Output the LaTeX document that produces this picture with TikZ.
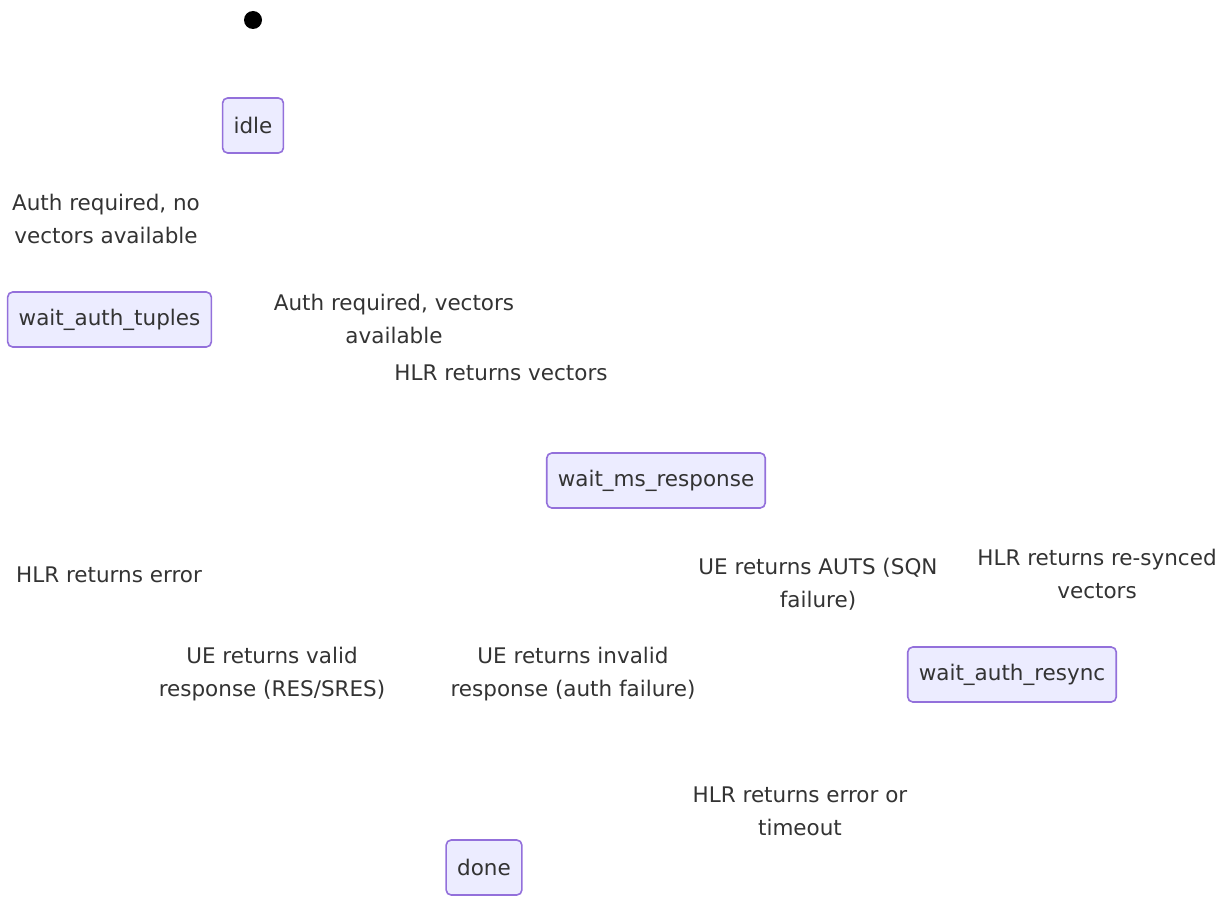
\documentclass[tikz,border=0pt]{standalone}
\usepackage{fontspec}
\setmainfont{DejaVu Sans}
\definecolor{stfill}{HTML}{ECECFF}
\definecolor{stline}{HTML}{9370DB}
\definecolor{txt}{HTML}{333333}
\begin{document}
\begin{tikzpicture}[x=1pt,y=-1pt,
  state/.style={draw=stline,fill=stfill,line width=1.6pt,rounded corners=5pt,
    minimum height=55pt,inner xsep=11pt,text=txt,font=\fontsize{21.5}{26}\selectfont},
  trans/.style={text=txt,align=center,font=\fontsize{21.5}{33}\selectfont}]
\useasboundingbox (0,0) rectangle (1230,896);

\fill (253,20) circle (9pt);

\node[state] (idle) at (253,125.5) {idle};
\node[state] (tuples) at (109.5,319.5) {wait\_auth\_tuples};
\node[state] (msresp) at (656,480.5) {wait\_ms\_response};
\node[state] (resync) at (1012,674.5) {wait\_auth\_resync};
\node[state] (done) at (484,867.5) {done};

\node[trans] (t1) at (106,219) {Auth required, no\\vectors available};
\node[trans] (t2) at (394,318.5) {Auth required, vectors\\available};
\node[trans] (t3) at (501,373) {HLR returns vectors};
\node[trans] (t4) at (109,575) {HLR returns error};
\node[trans] (t5) at (818,584.5) {UE returns AUTS (SQN\\failure)};
\node[trans] (t6) at (1097,573.5) {HLR returns re-synced\\vectors};
\node[trans] (t7) at (272,674.5) {UE returns valid\\response (RES/SRES)};
\node[trans] (t8) at (573,674.5) {UE returns invalid\\response (auth failure)};
\node[trans] (t9) at (800,811) {HLR returns error or\\timeout};
\end{tikzpicture}
\end{document}
